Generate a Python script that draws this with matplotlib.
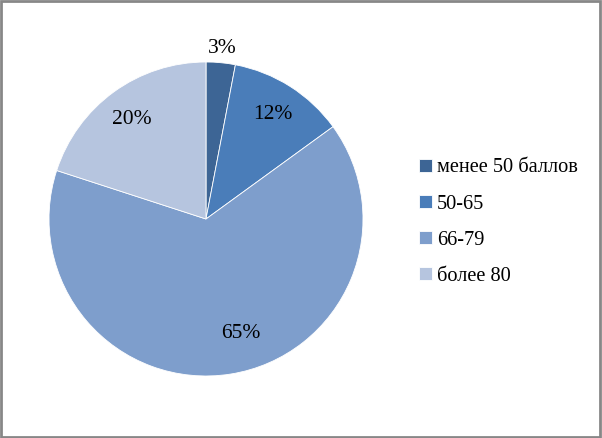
import numpy as np
import matplotlib
matplotlib.use("Agg")
import matplotlib.pyplot as plt
from matplotlib.patches import Rectangle

labels = ["менее 50 баллов", "50-65", "66-79", "более 80"]
values = [3, 12, 65, 20]
colors = ["#3D6595", "#4A7DB9", "#7E9ECC", "#B6C5DF"]

plt.rcParams['font.family'] = ['Liberation Serif', 'DejaVu Serif']

fig = plt.figure(figsize=(6.02, 4.38), dpi=100)
ax = fig.add_axes([49 / 602, 62 / 438, 314 / 602, 314 / 438])

wedges, texts, autotexts = ax.pie(values, colors=colors, startangle=90, counterclock=False,
                                  autopct="%d%%", pctdistance=0.79,
                                  wedgeprops=dict(edgecolor="white", linewidth=0.6),
                                  textprops=dict(fontsize=15.5, color="black"))
# label placement like the original (radius fraction, angle shift in degrees)
place = [(1.09, 0), (0.79, 0), (0.76, 8), (0.79, 1)]
for w, t, (r, da) in zip(wedges, autotexts, place):
    ang = np.deg2rad((w.theta1 + w.theta2) / 2 + da)
    t.set_position((r * np.cos(ang), r * np.sin(ang)))
ax.set_xlim(-1, 1)
ax.set_ylim(-1, 1)
ax.set_aspect("equal")

leg = fig.legend(wedges, labels, loc="upper left", bbox_to_anchor=(401 / 602, 1 - 140 / 438),
                 frameon=False, fontsize=14.7, handlelength=0.6, handleheight=0.6,
                 handletextpad=0.25, labelspacing=0.84)

fig.patches.append(Rectangle((0.002, 0.003), 0.994, 0.994, transform=fig.transFigure,
                             fill=False, edgecolor="#878787", linewidth=2))

fig.savefig("out.png", dpi=100)
